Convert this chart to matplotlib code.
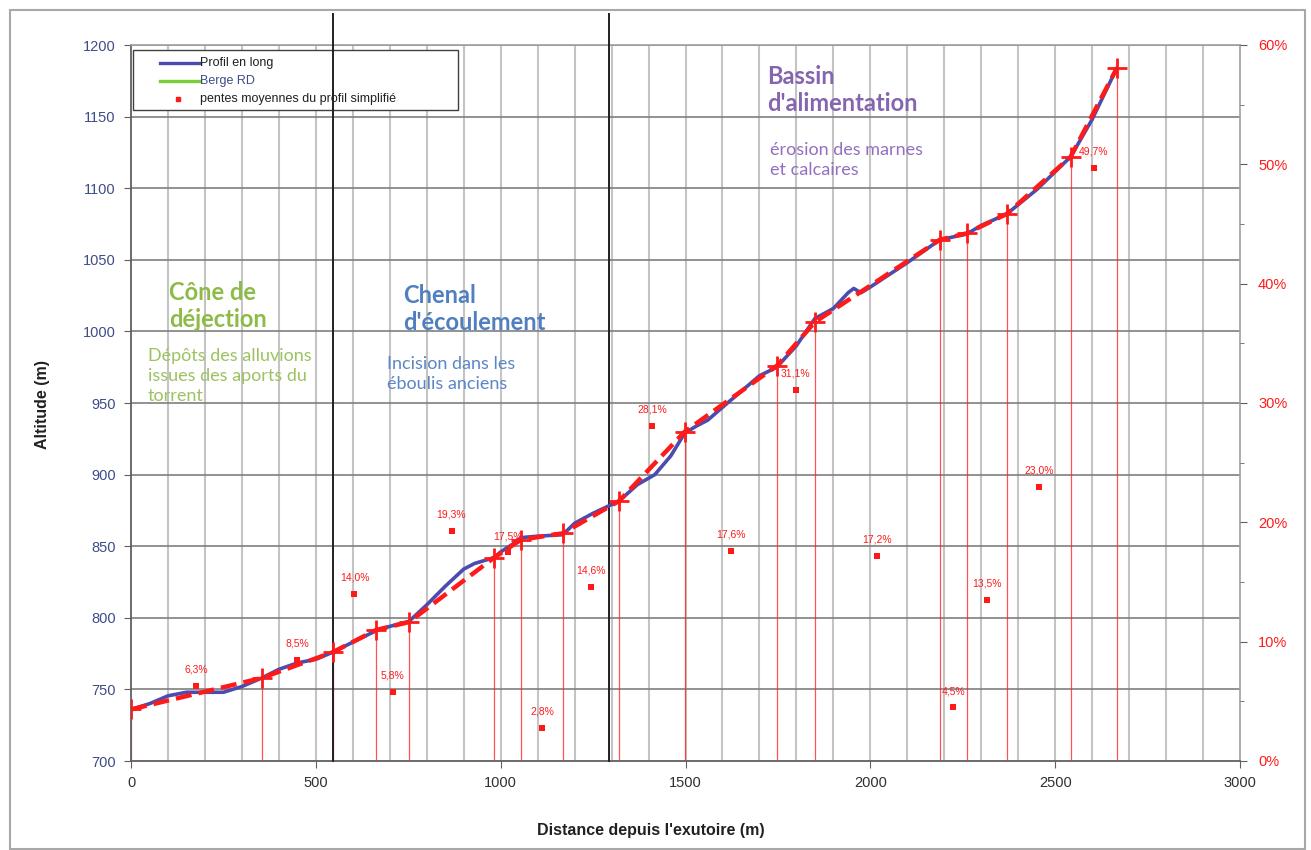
import matplotlib
matplotlib.use("Agg")
import matplotlib.pyplot as plt
from matplotlib.lines import Line2D
from matplotlib.patches import Rectangle
import numpy as np

# Longitudinal profile of the torrent (distance from outlet, altitude)
profile_dist = [0, 50, 100, 150, 200, 250, 300, 354, 400, 450, 500, 546, 600, 663, 700,
                752, 800, 850, 900, 930, 982, 1000, 1030, 1055, 1100, 1168, 1200, 1250,
                1320, 1370, 1417, 1460, 1498, 1530, 1560, 1600, 1650, 1700, 1747, 1800,
                1850, 1900, 1940, 1955, 1975, 2000, 2100, 2188, 2261, 2300, 2369, 2450,
                2542, 2600, 2667]
profile_alt = [736, 740, 745.5, 748, 748, 748, 752, 758, 764, 768.5, 771, 776, 783, 791, 794,
               797.5, 809, 822, 834, 838, 842, 846, 851, 856, 857, 858, 866, 873,
               881.5, 893, 900, 913, 929, 934, 938, 947, 958, 969, 975, 990,
               1009, 1016, 1027, 1030, 1027, 1031, 1048, 1064, 1068, 1074, 1082, 1099,
               1122, 1148, 1184]

# Simplified profile breakpoints
simple_dist = [0, 354, 546, 663, 752, 982, 1055, 1168, 1320, 1498, 1747, 1850, 2188,
               2261, 2369, 2542, 2667]
simple_alt = [736, 758, 776, 791.5, 797, 842, 854.5, 859, 881.5, 930, 976, 1006.5, 1064,
              1068.5, 1082, 1122, 1184]

# Mean slope of each simplified segment (%)
slopes = [6.3, 8.5, 14.0, 5.8, 19.3, 17.5, 2.8, 14.6, 28.1, 17.6, 31.1, 17.2, 4.5,
          13.5, 23.0, 49.7]

# Zone boundaries (m)
zone_limits = [546, 1293]

x_ticks = [0, 500, 1000, 1500, 2000, 2500, 3000]
y_ticks = [700, 750, 800, 850, 900, 950, 1000, 1050, 1100, 1150, 1200]
pct_ticks = [0, 10, 20, 30, 40, 50, 60]

legend_labels = ["Profil en long", "Berge RD", "pentes moyennes du profil simplifié"]

RED = "#FF1A1A"
PROFILE_BLUE = "#4C4CB0"
W, H = 1311, 850
fig = plt.figure(figsize=(W / 100, H / 100), dpi=100)
fig.patch.set_facecolor("white")


def fx(px):
    return px / W


def fy(py):
    return 1 - py / H


L, R, T, B = 131, 1240, 45, 761
ax = fig.add_axes([L / W, 1 - B / H, (R - L) / W, (B - T) / H])
ax.set_xlim(0, 3000)
ax.set_ylim(700, 1200)

# grid
for gx in range(100, 3000, 100):
    ax.axvline(gx, color="#c4c4c4", lw=1.5, zorder=1)
for gy in y_ticks[1:]:
    ax.axhline(gy, color="#7f7f7f", lw=1.2, zorder=1.2)

for side in ["top", "right"]:
    ax.spines[side].set_color("#a0a0a0")
    ax.spines[side].set_linewidth(1.2)
ax.spines["left"].set_color("#606060")
ax.spines["bottom"].set_color("#606060")
ax.spines["left"].set_linewidth(1.3)
ax.spines["bottom"].set_linewidth(1.3)

ax.set_xticks(x_ticks)
ax.set_xticklabels([str(v) for v in x_ticks], fontsize=10.5, color="#303030",
                   family="Liberation Sans")
ax.set_yticks(y_ticks)
ax.set_yticklabels([str(v) for v in y_ticks], fontsize=10.5, color="#3E4C8A",
                   family="Liberation Sans")
ax.tick_params(axis="both", direction="out", length=5, color="#606060", pad=6)

# secondary axis for slopes
ax2 = ax.twinx()
ax2.set_ylim(0, 60)
ax2.set_yticks(pct_ticks)
ax2.set_yticklabels([f"{v}%" for v in pct_ticks], fontsize=10.5, color=RED,
                    family="Liberation Sans")
ax2.set_yticks(np.arange(5, 60, 10), minor=True)
ax2.tick_params(axis="y", which="both", direction="out", length=5, color="#606060", pad=8)
ax2.tick_params(axis="y", which="minor", length=3)
for s in ax2.spines.values():
    s.set_visible(False)

# legend box (under the zone boundary lines, over the grid)
ax.add_patch(Rectangle((fx(133), fy(110)), (458 - 133) / W, 60 / H,
                       transform=fig.transFigure, facecolor="white",
                       edgecolor="#404040", lw=1.0, zorder=2.5, clip_on=False))

# zone boundaries
for zl in zone_limits:
    ax.plot([zl, zl], [700, 1200 + 31 / 1.432], color="#202020", lw=1.4,
            clip_on=False, zorder=3)

# vertical drop lines from breakpoints
for d, z in zip(simple_dist, simple_alt):
    ax.plot([d, d], [700, z], color=RED, lw=0.9, alpha=0.75, zorder=2)

# profiles
ax.plot(profile_dist, profile_alt, color=PROFILE_BLUE, lw=2.6, zorder=4,
        solid_capstyle="round")
ln, = ax.plot(simple_dist, simple_alt, color=RED, lw=3.2, zorder=5,
              marker="+", markersize=14, markeredgewidth=2.0)
ln.set_dashes((3.6, 1.6))

# slope markers and labels
mids = [(a + b) / 2 for a, b in zip(simple_dist[:-1], simple_dist[1:])]
ax2.scatter(mids, slopes, marker="s", s=14, color=RED, zorder=6, linewidths=0)
for m, s in zip(mids, slopes):
    ax2.annotate(f"{s:.1f}%".replace(".", ","), (m, s), xytext=(0, 8),
                 textcoords="offset points", ha="center", va="bottom",
                 fontsize=7.5, color=RED, family="Liberation Sans", zorder=6)

# zone descriptions
green, green2 = "#8CBB47", "#9CC261"
blue, blue2 = "#4F7FC0", "#5B86C6"
purple, purple2 = "#8564B0", "#9270C0"

title_kw = dict(fontsize=17, fontweight="bold", family="Lato", va="center",
                ha="left", linespacing=1.22)
sub_kw = dict(fontsize=13, family="Lato", va="center", ha="left", linespacing=1.3)

fig.text(fx(169), fy(306), "Cône de\ndéjection", color=green, **title_kw)
fig.text(fx(148), fy(376), "Dépôts des alluvions\nissues des aports du\ntorrent",
         color=green2, **sub_kw)
fig.text(fx(403), fy(309), "Chenal\nd'écoulement", color=blue, **title_kw)
fig.text(fx(387), fy(374), "Incision dans les\néboulis anciens", color=blue2, **sub_kw)
fig.text(fx(767), fy(90), "Bassin\nd'alimentation", color=purple, **title_kw)
fig.text(fx(770), fy(160), "érosion des marnes\net calcaires", color=purple2, **sub_kw)

# axis titles
fig.text(fx(42), fy(404), "Altitude (m)", rotation=90, fontsize=11.5,
         fontweight="bold", family="Liberation Sans", va="center", ha="center",
         color="#202020")
fig.text(fx(651), fy(831), "Distance depuis l'exutoire (m)", fontsize=11.5,
         fontweight="bold", family="Liberation Sans", va="center", ha="center",
         color="#202020")

# legend entries
rows_y = [63, 81, 99]
legend_handles = [
    dict(kind="line", color=PROFILE_BLUE),
    dict(kind="line", color="#7ACC3A"),
    dict(kind="square", color=RED),
]
text_colors = ["#202020", "#3E4C8A", "#202020"]
for y, h, lab, tc in zip(rows_y, legend_handles, legend_labels, text_colors):
    if h["kind"] == "line":
        fig.lines.append(Line2D([fx(160), fx(200)], [fy(y), fy(y)], color=h["color"],
                                lw=2.4, transform=fig.transFigure, zorder=11))
    else:
        fig.lines.append(Line2D([fx(178)], [fy(y)], color=h["color"], lw=0, marker="s",
                                markersize=3.5, transform=fig.transFigure, zorder=11))
    fig.text(fx(200), fy(y), lab, fontsize=9, family="Liberation Sans", color=tc,
             va="center", ha="left", zorder=11)

# outer frame
fig.patches.append(Rectangle((10 / W, 1 - 849 / H), 1295 / W, 839 / H,
                             transform=fig.transFigure, fill=False,
                             edgecolor="#a8a8a8", lw=1.5))

fig.savefig("out.png", dpi=100)
